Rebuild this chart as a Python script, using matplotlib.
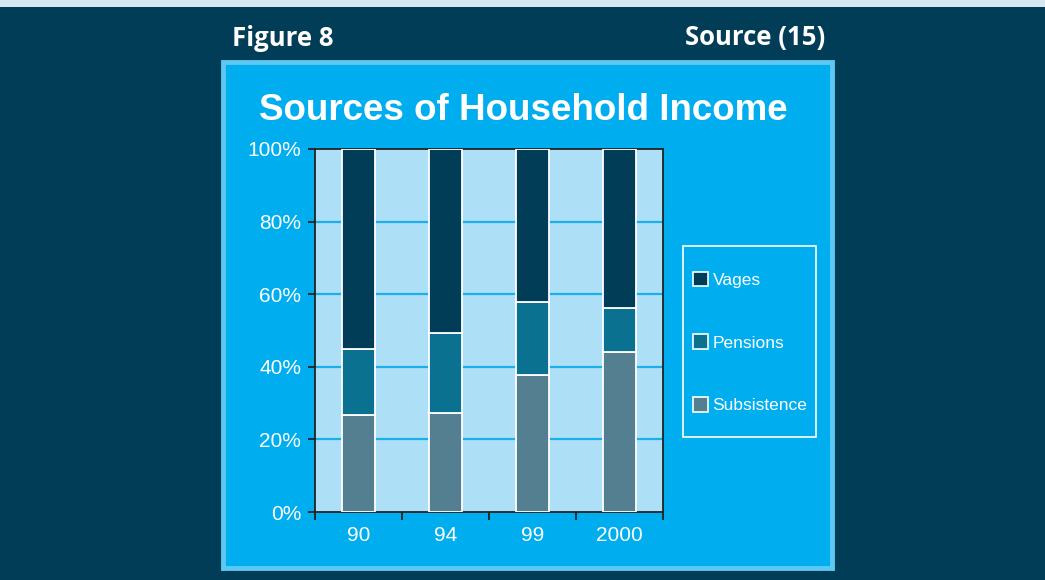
import matplotlib
matplotlib.use("Agg")
import matplotlib.pyplot as plt
from matplotlib.patches import Rectangle, Patch
from matplotlib.ticker import FixedLocator, PercentFormatter

# ---- data ----
years = ["90", "94", "99", "2000"]
subsistence = [26.7, 27.3, 37.7, 44.1]
pensions = [18.2, 22.0, 20.2, 12.0]
vages = [100 - s - p for s, p in zip(subsistence, pensions)]
series_names = ["Vages", "Pensions", "Subsistence"]
yticks = [0, 20, 40, 60, 80, 100]

# ---- colours ----
BG_DARK = "#023d57"
TOP_STRIP = "#d8e8f0"
PANEL = "#00aeef"
PANEL_EDGE = "#5dc8f2"
PLOT_BG = "#ade0f7"
GRID = "#1cb0ea"
C_VAGES = "#023d57"
C_PENS = "#0a7191"
C_SUBS = "#537f91"

W, H = 1045, 580
fig = plt.figure(figsize=(W / 100, H / 100), dpi=100)
fig.patch.set_facecolor(BG_DARK)


def px_rect(x0, y0, x1, y1, **kw):
    r = Rectangle((x0 / W, 1 - y1 / H), (x1 - x0) / W, (y1 - y0) / H,
                  transform=fig.transFigure, **kw)
    fig.add_artist(r)
    return r


# top light strip
px_rect(0, 0, W, 7, facecolor=TOP_STRIP, edgecolor="none", zorder=0)
# panel with lighter border
px_rect(223, 62, 832, 568, facecolor=PANEL, edgecolor=PANEL_EDGE, linewidth=3.5, zorder=0)

# header texts
fig.text(232 / W, 1 - 38 / H, "Figure 8", color="white", fontsize=18.5,
         fontweight="bold", family="Open Sans", ha="left", va="center")
fig.text(825 / W, 1 - 38 / H, "Source (15)", color="white", fontsize=18.5,
         fontweight="bold", family="Open Sans", ha="right", va="center")
fig.text(523 / W, 1 - 111 / H, "Sources of Household Income", color="white",
         fontsize=26.5, fontweight="heavy", family="Liberation Sans",
         ha="center", va="center")

# axes
ax = fig.add_axes([315 / W, 1 - 512 / H, 348 / W, 363 / H])
ax.set_facecolor(PLOT_BG)
x = list(range(len(years)))
bw = 0.39
ax.bar(x, subsistence, bw, color=C_SUBS, edgecolor="white", linewidth=1.3, zorder=3)
ax.bar(x, pensions, bw, bottom=subsistence, color=C_PENS, edgecolor="white",
       linewidth=1.3, zorder=3)
bottoms2 = [s + p for s, p in zip(subsistence, pensions)]
ax.bar(x, vages, bw, bottom=bottoms2, color=C_VAGES, edgecolor="white",
       linewidth=1.3, zorder=3)

ax.set_xlim(-0.5, len(years) - 0.5)
ax.set_ylim(0, 100)
ax.set_yticks(yticks)
ax.yaxis.set_major_formatter(PercentFormatter(decimals=0))
for yv in yticks[1:-1]:
    ax.axhline(yv, color=GRID, linewidth=1.6, zorder=1)

ax.set_xticks(x)
ax.set_xticklabels(years)
ax.xaxis.set_minor_locator(FixedLocator([i - 0.5 for i in range(len(years) + 1)]))
ax.tick_params(axis="x", which="major", length=0, pad=10, labelsize=15,
               labelcolor="white")
ax.tick_params(axis="x", which="minor", length=6, width=1.3, color="#222222",
               direction="out")
ax.tick_params(axis="y", length=5, width=1.3, color="#222222", direction="out",
               pad=5, labelsize=15, labelcolor="white")
for lab in ax.get_xticklabels() + ax.get_yticklabels():
    lab.set_family("Liberation Sans")
for sp in ax.spines.values():
    sp.set_color("#222222")
    sp.set_linewidth(1.3)

# legend box
px_rect(683, 246, 816, 437, facecolor="none", edgecolor="white", linewidth=1.2, zorder=2)
handles = [Patch(facecolor=C_VAGES, edgecolor="white", linewidth=1.2),
           Patch(facecolor=C_PENS, edgecolor="white", linewidth=1.2),
           Patch(facecolor=C_SUBS, edgecolor="white", linewidth=1.2)]
leg = fig.legend(handles, series_names, loc="upper left",
                 bbox_to_anchor=(684 / W, 1 - 263 / H), frameon=False,
                 handlelength=0.9, handleheight=0.9, handletextpad=0.25,
                 labelspacing=2.68, borderpad=0,
                 prop={"family": "Liberation Sans", "size": 12.5})
for t in leg.get_texts():
    t.set_color("white")

fig.savefig("out.png", dpi=100, facecolor=fig.get_facecolor())
